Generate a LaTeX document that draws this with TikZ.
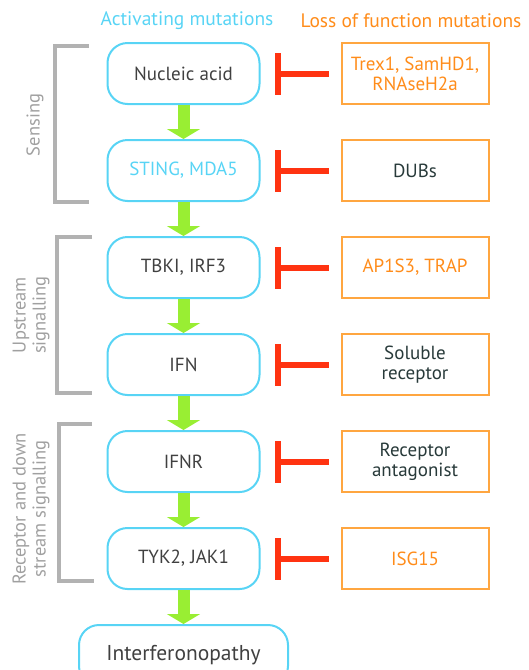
\documentclass[tikz,border=0pt]{standalone}
\usepackage{fontspec}
\setmainfont{PT Sans}
\usepackage{xcolor}
\definecolor{cyanline}{RGB}{88, 212, 245}
\definecolor{orangeline}{RGB}{255, 166, 64}
\definecolor{orangetext}{RGB}{255, 140, 26}
\definecolor{redbar}{RGB}{255, 51, 17}
\definecolor{greenflow}{RGB}{153, 238, 51}
\definecolor{graybracket}{RGB}{178, 178, 178}
\definecolor{graylabel}{RGB}{160, 160, 160}
\definecolor{darktext}{RGB}{64, 64, 64}
\definecolor{slatetext}{RGB}{40, 58, 58}
\usepackage{tikz}
\usetikzlibrary{positioning, arrows.meta}

\begin{document}
\begin{tikzpicture}[
    x=1pt, y=-1pt,
    node distance=34pt and 80pt,
    font=\fontsize{19}{20}\selectfont,
    stage/.style={rectangle, rounded corners=20pt, draw=cyanline, line width=2pt, minimum width=152pt, minimum height=61pt, text=darktext, align=center},
    blocker/.style={rectangle, draw=orangeline, line width=2pt, minimum width=147pt, minimum height=61pt, text=slatetext, align=center},
    flow/.style={draw=greenflow, line width=12pt, -{Triangle[width=33pt, length=10pt]}},
    inhibit/.style={draw=redbar, line width=6pt, -{Bar[width=42pt]}, shorten <=12pt, shorten >=14pt},
    bracket/.style={draw=graybracket, line width=4pt},
    phase/.style={text=graylabel, rotate=90, align=center, font=\fontsize{18.5}{20}\selectfont}
]
    \useasboundingbox (0,0) rectangle (529,670);

    % headers
    \node[text=cyanline, font=\fontsize{19.5}{20}\selectfont] (acthead) at (187,21) {Activating mutations};
    \node[text=orangetext, font=\fontsize{19.5}{20}\selectfont] (losshead) at (411,21) {Loss of function mutations};

    % pathway
    \node[stage] (nuc) at (183.5,73.5) {Nucleic acid};
    \node[stage, below=of nuc, text=cyanline] (sting) {STING, MDA5};
    \node[stage, below=of sting] (tbk) {TBKI, IRF3};
    \node[stage, below=of tbk] (ifn) {IFN};
    \node[stage, below=of ifn] (ifnr) {IFNR};
    \node[stage, below=of ifnr] (tyk) {TYK2, JAK1};
    \node[stage, below=of tyk, minimum width=209pt, font=\fontsize{21.5}{22}\selectfont] (ifnopathy) {Interferonopathy};

    % loss of function
    \node[blocker, right=of nuc, text=orangetext] (trex) {Trex1, SamHD1,\\RNAseH2a};
    \node[blocker, right=of sting] (dubs) {DUBs};
    \node[blocker, right=of tbk, text=orangetext] (ap) {AP1S3, TRAP};
    \node[blocker, right=of ifn] (soluble) {Soluble\\receptor};
    \node[blocker, right=of ifnr] (antag) {Receptor\\antagonist};
    \node[blocker, right=of tyk, text=orangetext] (isg) {ISG15};

    \draw[flow] (nuc) -- (sting);
    \draw[flow] (sting) -- (tbk);
    \draw[flow] (tbk) -- (ifn);
    \draw[flow] (ifn) -- (ifnr);
    \draw[flow] (ifnr) -- (tyk);
    \draw[flow] (tyk) -- (ifnopathy);

    \draw[inhibit] (trex) -- (nuc);
    \draw[inhibit] (dubs) -- (sting);
    \draw[inhibit] (ap) -- (tbk);
    \draw[inhibit] (soluble) -- (ifn);
    \draw[inhibit] (antag) -- (ifnr);
    \draw[inhibit] (isg) -- (tyk);

    % brackets
    \draw[bracket] (89,46) -- (55,46) -- (55,202) -- (89,202);
    \draw[bracket] (92,237) -- (57,237) -- (57,393) -- (92,393);
    \draw[bracket] (92,424) -- (59,424) -- (59,581) -- (94,581);

    \node[phase] (sensing) at (35,125) {Sensing};
    \node[phase] (upstream) at (31,315) {Upstream\\signalling};
    \node[phase] (receptor) at (31,509) {Receptor and down\\stream signalling};
\end{tikzpicture}
\end{document}
